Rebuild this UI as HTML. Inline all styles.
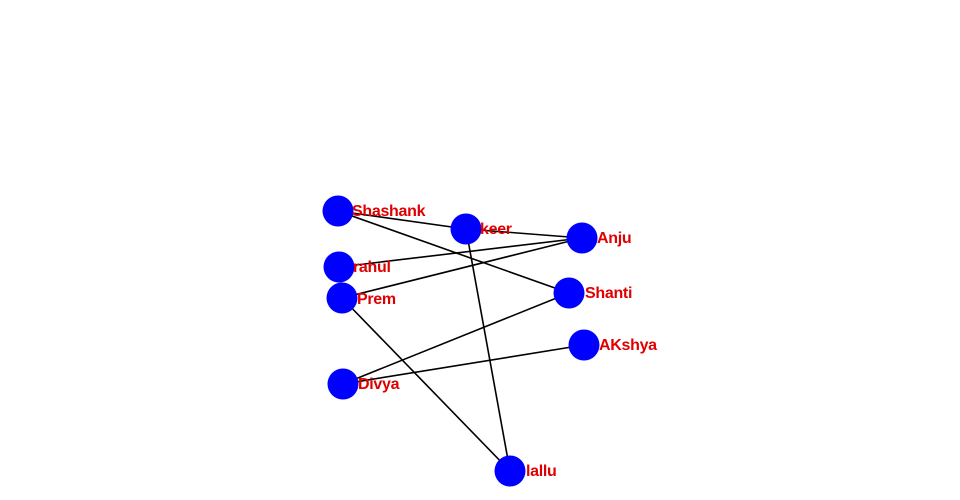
<!DOCTYPE html>
<html><head><meta charset="utf-8"><style>html,body{margin:0;padding:0;background:#fff;width:960px;height:500px;overflow:hidden}</style></head>
<body>
<svg width="960" height="500" xmlns="http://www.w3.org/2000/svg">
<g stroke="#000" stroke-width="1.6">
<line x1="338" y1="211" x2="466" y2="229"/>
<line x1="466" y1="229" x2="582" y2="238"/>
<line x1="338" y1="211" x2="569" y2="293"/>
<line x1="339" y1="267" x2="582" y2="238"/>
<line x1="342" y1="298" x2="582" y2="238"/>
<line x1="466" y1="229" x2="510" y2="471"/>
<line x1="342" y1="298" x2="510" y2="471"/>
<line x1="343" y1="384" x2="569" y2="293"/>
<line x1="343" y1="384" x2="584" y2="345"/>
</g>
<g fill="#0000ff">
<circle cx="338" cy="211" r="15.5"/>
<circle cx="466" cy="229" r="15.5"/>
<circle cx="582" cy="238" r="15.5"/>
<circle cx="339" cy="267" r="15.5"/>
<circle cx="342" cy="298" r="15.5"/>
<circle cx="569" cy="293" r="15.5"/>
<circle cx="584" cy="345" r="15.5"/>
<circle cx="343" cy="384" r="15.5"/>
<circle cx="510" cy="471" r="15.5"/>
</g>
<g fill="#e00000" font-family="Liberation Sans, sans-serif" font-size="16" font-weight="bold" letter-spacing="-0.3">
<text x="352" y="216">Shashank</text>
<text x="480" y="234">keer</text>
<text x="597" y="243">Anju</text>
<text x="353" y="272">rahul</text>
<text x="357" y="304">Prem</text>
<text x="585" y="298">Shanti</text>
<text x="599" y="350">AKshya</text>
<text x="358" y="389">Divya</text>
<text x="526" y="476">lallu</text>
</g>
</svg>
</body></html>
